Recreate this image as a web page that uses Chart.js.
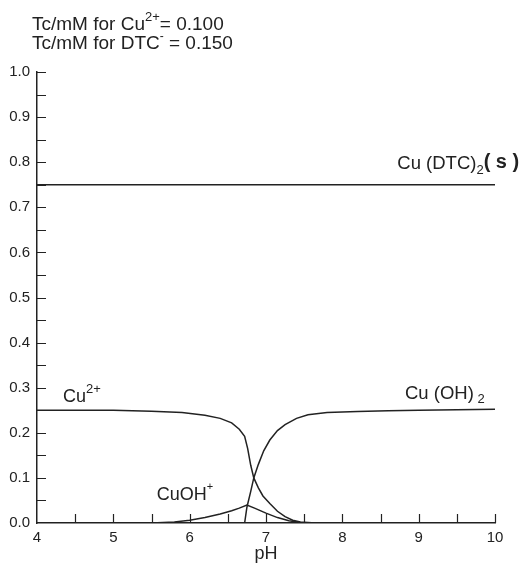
<!DOCTYPE html>
<html lang="en">
<head>
    <meta charset="UTF-8">
    <title>Cu speciation vs pH</title>
    <script src="https://cdn.jsdelivr.net/npm/chart.js"></script>
    <style>
        body { margin: 0; background: #fff; }
    </style>
</head>
<body>
    <canvas id="myChart" width="528" height="565"></canvas>

<script>
    // values
    const cuFreePh   = [4.0, 4.5, 5.0, 5.5, 5.9, 6.2, 6.4, 6.55, 6.65, 6.72, 6.76, 6.80, 6.84, 6.90, 6.96, 7.05, 7.15, 7.25, 7.35, 7.45, 7.6, 8.0, 10.0]
    const cuFreeVals = [0.250, 0.250, 0.250, 0.248, 0.245, 0.239, 0.232, 0.222, 0.208, 0.192, 0.165, 0.128, 0.100, 0.078, 0.060, 0.043, 0.026, 0.014, 0.006, 0.002, 0.0005, 0, 0]

    const cuOhPh   = [4.0, 5.5, 5.8, 6.0, 6.2, 6.4, 6.55, 6.65, 6.75, 6.85, 7.0, 7.15, 7.3, 7.45, 7.6, 10.0]
    const cuOhVals = [0, 0, 0.002, 0.006, 0.012, 0.020, 0.027, 0.033, 0.040, 0.033, 0.022, 0.012, 0.005, 0.001, 0, 0]

    const cuOh2Ph   = [6.72, 6.75, 6.80, 6.84, 6.90, 6.97, 7.05, 7.15, 7.25, 7.4, 7.55, 7.8, 8.2, 8.6, 9.0, 9.5, 10.0]
    const cuOh2Vals = [0, 0.035, 0.070, 0.100, 0.130, 0.160, 0.184, 0.205, 0.218, 0.232, 0.240, 0.245, 0.247, 0.249, 0.250, 0.251, 0.252]

    const cuDtcPh   = [4.0, 10.0]
    const cuDtcVals = [0.75, 0.75]

    const xTicks = [4, 5, 6, 7, 8, 9, 10]
    const yTicks = [0, 0.1, 0.2, 0.3, 0.4, 0.5, 0.6, 0.7, 0.8, 0.9, 1.0]

    const ink = '#222'
    const fontName = '"Liberation Sans", Arial, sans-serif'

    function pts(xs, ys){
        return xs.map(function(x, i){ return {x: x, y: ys[i]} })
    }

    function curve(label, xs, ys){
        return {
            label: label,
            data: pts(xs, ys),
            borderColor: ink,
            borderWidth: 1.5,
            pointRadius: 0,
            tension: 0,
            fill: false
        }
    }

    // draw text made of pieces: [text, size, raise, bold]
    function richText(ctx, x, y, parts){
        parts.forEach(function(p){
            ctx.font = (p[3] ? 'bold ' : '') + p[1] + 'px ' + fontName
            ctx.fillText(p[0], x, y - p[2])
            x += ctx.measureText(p[0]).width
        })
    }

    // inward tick marks, minor ones every half step
    const innerTicks = {
        id: 'innerTicks',
        afterDraw(chart){
            const ctx = chart.ctx
            const xs = chart.scales.x, ys = chart.scales.y
            ctx.save()
            ctx.strokeStyle = ink
            ctx.lineWidth = 1.2
            ctx.beginPath()
            for (let v = 4.5; v <= 10.001; v += 0.5){
                const px = Math.round(xs.getPixelForValue(v)) + 0.5
                ctx.moveTo(px, ys.bottom)
                ctx.lineTo(px, ys.bottom - 9)
            }
            for (let v = 0.05; v <= 1.001; v += 0.05){
                const py = Math.round(ys.getPixelForValue(v)) + 0.5
                ctx.moveTo(xs.left, py)
                ctx.lineTo(xs.left + 9, py)
            }
            ctx.stroke()
            ctx.restore()
        }
    }

    const speciesLabels = {
        id: 'speciesLabels',
        afterDraw(chart){
            const ctx = chart.ctx
            const xs = chart.scales.x, ys = chart.scales.y
            ctx.save()
            ctx.fillStyle = ink
            ctx.textBaseline = 'alphabetic'
            ctx.textAlign = 'left'

            richText(ctx, 32, 30, [['Tc/mM for Cu', 19, 0], ['2+', 13, 9], ['= 0.100', 19, 0]])
            richText(ctx, 32, 49, [['Tc/mM for DTC', 19, 0], ['-', 12, 9], [' = 0.150', 19, 0]])

            richText(ctx, xs.getPixelForValue(8.72), ys.getPixelForValue(0.785),
                [['Cu (DTC)', 18.5, 0], ['2', 13, -5], ['( s )', 20, 1, true]])
            richText(ctx, xs.getPixelForValue(4.34), ys.getPixelForValue(0.268),
                [['Cu', 18, 0], ['2+', 13, 9]])
            richText(ctx, xs.getPixelForValue(8.82), ys.getPixelForValue(0.275),
                [['Cu (OH)', 18.5, 0], [' 2', 13, -4]])
            richText(ctx, xs.getPixelForValue(5.57), ys.getPixelForValue(0.051),
                [['CuOH', 18, 0], ['+', 11, 10]])
            ctx.restore()
        }
    }

    const ctx1 = document.getElementById('myChart')

    new Chart(ctx1, {
        type: 'line',
        data: {
            datasets: [
                curve('Cu(DTC)2(s)', cuDtcPh, cuDtcVals),
                curve('Cu2+', cuFreePh, cuFreeVals),
                curve('CuOH+', cuOhPh, cuOhVals),
                curve('Cu(OH)2', cuOh2Ph, cuOh2Vals)
            ]
        },
        options: {
            responsive: false,
            animation: false,
            layout: { padding: { top: 72, right: 33, left: 0, bottom: 0 } },
            plugins: {
                legend: { display: false },
                tooltip: { enabled: false }
            },
            scales: {
                x: {
                    type: 'linear',
                    min: 4,
                    max: 10,
                    afterBuildTicks: function(s){ s.ticks = xTicks.map(function(v){ return {value: v} }) },
                    ticks: { padding: 6, color: ink, font: { family: fontName, size: 15 } },
                    grid: { display: false, drawTicks: false },
                    border: { display: true, color: ink, width: 1.5 },
                    title: { display: true, text: 'pH', color: ink, font: { family: fontName, size: 18 }, padding: { top: 0, bottom: 0 } },
                    afterFit: function(s){ s.height = 42 }
                },
                y: {
                    type: 'linear',
                    min: 0,
                    max: 1,
                    afterBuildTicks: function(s){ s.ticks = yTicks.map(function(v){ return {value: v} }) },
                    ticks: {
                        padding: 7,
                        color: ink,
                        font: { family: fontName, size: 15 },
                        callback: function(v){ return Number(v).toFixed(1) }
                    },
                    grid: { display: false, drawTicks: false },
                    border: { display: true, color: ink, width: 1.5 },
                    afterFit: function(s){ s.width = 37 }
                }
            }
        },
        plugins: [innerTicks, speciesLabels]
    })
</script>
</body>
</html>
